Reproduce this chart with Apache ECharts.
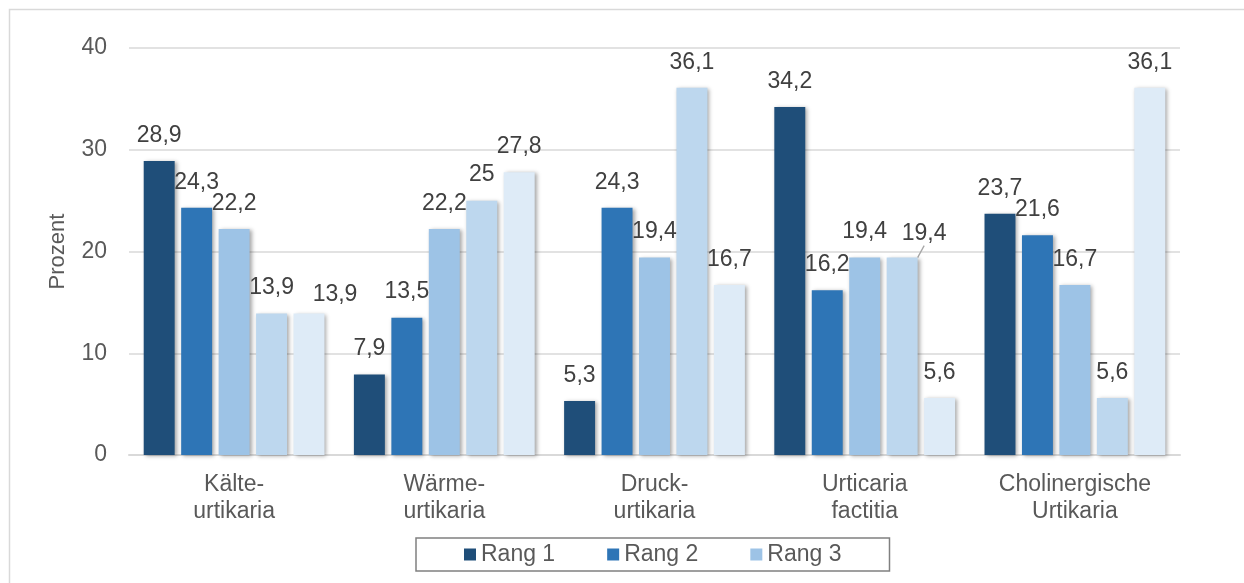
<!DOCTYPE html>
<html>
<head>
<meta charset="utf-8">
<script src="https://cdn.jsdelivr.net/npm/echarts@6/dist/echarts.min.js"></script>
<style>
  html, body { margin: 0; padding: 0; background: #ffffff; }
  #chart { width: 1244px; height: 583px; }
</style>
</head>
<body>
<div id="chart"></div>
<script>
// Urtikaria-Formen und Rangverteilung (Prozent)
const categories = ['Kälte-\nurtikaria', 'Wärme-\nurtikaria', 'Druck-\nurtikaria', 'Urticaria\nfactitia', 'Cholinergische\nUrtikaria'];
const seriesNames = ['Rang 1', 'Rang 2', 'Rang 3', 'Rang 4', 'Rang 5'];
const rang1 = [28.9, 7.9, 5.3, 34.2, 23.7];
const rang2 = [24.3, 13.5, 24.3, 16.2, 21.6];
const rang3 = [22.2, 22.2, 19.4, 19.4, 16.7];
const rang4 = [13.9, 25, 36.1, 19.4, 5.6];
const rang5 = [13.9, 27.8, 16.7, 5.6, 36.1];
const legendItems = ['Rang 1', 'Rang 2', 'Rang 3'];
const yTicks = { min: 0, max: 40, interval: 10 };

const colors = ['#1F4E79', '#2E75B6', '#9DC3E6', '#BDD7EE', '#DEEBF7'];
const values = [rang1, rang2, rang3, rang4, rang5];
const FONT = '"Liberation Sans", Arial, sans-serif';

// labels moved aside so neighbouring values do not collide: [series, category, dx, dy]
const movedLabels = [
  [3, 3, 22, 2],
  [4, 0, 26, 7]
];

function moveFor(s, d) {
  const m = movedLabels.find(e => e[0] === s && e[1] === d);
  return m ? { dx: m[2], dy: m[3] } : {};
}

const series = values.map((vals, i) => ({
  name: seriesNames[i],
  type: 'bar',
  data: vals.map((v, d) => (i === 3 && d === 3)
    ? { value: v, labelLine: { show: true, lineStyle: { color: '#a6a6a6', width: 1.3 } } }
    : v),
  barGap: '21%',
  barCategoryGap: '14%',
  itemStyle: {
    color: colors[i],
    shadowColor: 'rgba(0,0,0,0.35)',
    shadowBlur: 4,
    shadowOffsetX: 2,
    shadowOffsetY: 1
  },
  label: {
    show: true,
    position: 'top',
    distance: 14,
    color: '#404040',
    fontFamily: FONT,
    fontSize: 23,
    formatter: p => String(p.value).replace('.', ',')
  },
  labelLine: { show: false },
  labelLayout: p => moveFor(i, p.dataIndex)
}));

const chart = echarts.init(document.getElementById('chart'), null, { renderer: 'canvas' });
chart.setOption({
  animation: false,
  backgroundColor: '#ffffff',
  color: colors,
  textStyle: { fontFamily: FONT },
  graphic: [{
    type: 'rect',
    left: 7, top: 7,
    shape: { width: 1300, height: 700 },
    style: { fill: 'none', stroke: '#d9d9d9', lineWidth: 1.5 },
    silent: true
  }],
  grid: { left: 129, right: 64, top: 48, bottom: 128, containLabel: false },
  legend: {
    data: legendItems,
    left: 416,
    top: 538,
    itemWidth: 12,
    itemHeight: 12,
    itemGap: 52,
    padding: [5, 48, 5, 48],
    borderColor: '#808080',
    borderWidth: 1.5,
    icon: 'rect',
    textStyle: { color: '#595959', fontSize: 23, fontFamily: FONT }
  },
  xAxis: {
    type: 'category',
    data: categories,
    axisLine: { show: true, lineStyle: { color: '#d9d9d9', width: 2 } },
    axisTick: { show: false },
    axisLabel: {
      color: '#595959',
      fontSize: 23,
      fontFamily: FONT,
      margin: 16,
      lineHeight: 27,
      interval: 0
    }
  },
  yAxis: {
    type: 'value',
    min: yTicks.min,
    max: yTicks.max,
    interval: yTicks.interval,
    name: 'Prozent',
    nameLocation: 'middle',
    nameGap: 60,
    nameRotate: 90,
    nameTextStyle: { color: '#595959', fontSize: 22, fontFamily: FONT },
    axisLine: { show: false },
    axisTick: { show: false },
    axisLabel: { color: '#595959', fontSize: 23, fontFamily: FONT, margin: 22 },
    splitLine: { lineStyle: { color: '#d9d9d9', width: 1.5 } }
  },
  series: series
});
</script>
</body>
</html>
